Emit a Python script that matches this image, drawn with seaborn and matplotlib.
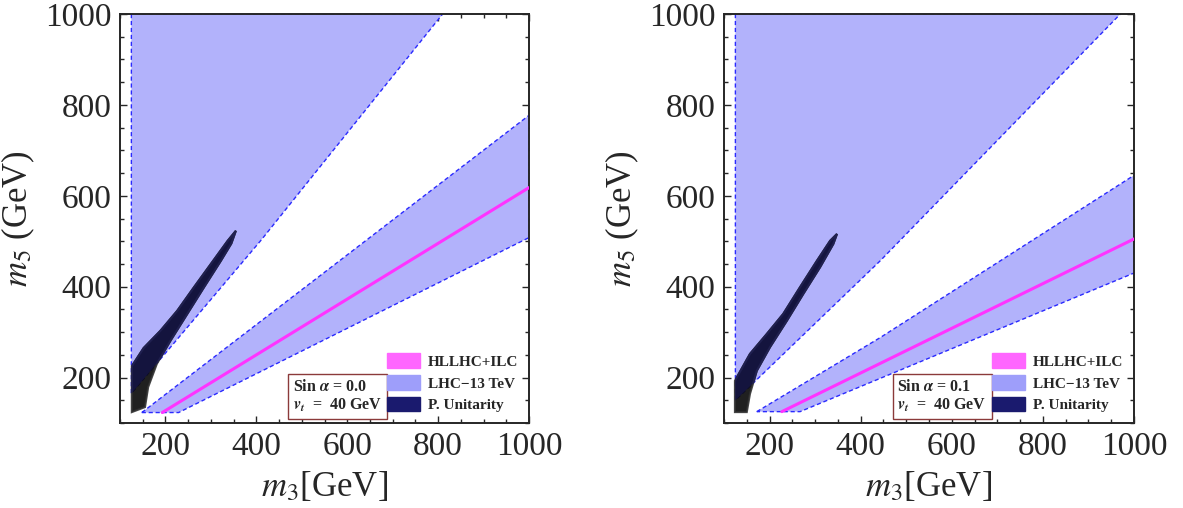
import matplotlib
matplotlib.use("Agg")
import matplotlib.pyplot as plt
from matplotlib.patches import Patch, Polygon
from matplotlib.ticker import MultipleLocator
import numpy as np
import pandas as pd
import seaborn as sns

# panel settings
SIN_ALPHA = ["0.0", "0.1"]
VT = "40"

# LHC-13 TeV upper excluded wedge (m3, m5), per panel
UPPER_M3 = [[125, 125, 411, 810], [125, 125, 443, 970]]
UPPER_M5 = [[1000, 165, 503, 1000], [1000, 150, 457, 1000]]

# LHC-13 TeV lower band
BAND_M3 = [[148, 1000, 1000, 229], [172, 443, 1000, 1000, 267]]
BAND_M5 = [[123, 777, 508, 123], [125, 288, 645, 430, 125]]

# HLLHC+ILC line
HL_M3 = [[193, 1000], [227, 1000]]
HL_M5 = [[123, 618], [125, 505]]

# perturbative unitarity region outline
PU_M3 = [[126, 152, 189, 226, 263, 300, 337, 355, 345, 322, 285, 248, 211, 181, 162, 155, 126],
         [124, 157, 194, 230, 267, 304, 333, 348, 340, 311, 274, 238, 201, 172, 157, 150, 124]]
PU_M5 = [[225, 265, 303, 347, 399, 450, 501, 523, 495, 457, 399, 340, 281, 230, 179, 135, 124],
         [193, 252, 296, 340, 399, 457, 501, 516, 494, 443, 384, 325, 267, 215, 164, 124, 124]]

LEGEND_LABELS = ["HLLHC+ILC", "LHC\u221213 TeV", "P. Unitarity"]
LEGEND_COLORS = ["#ff66ff", "#9e9efa", "#1a1a6e"]

FILL = "#b2b2fb"
EDGE = "#2a2aff"

sns.set_style("ticks")
plt.rcParams["font.family"] = ["Liberation Serif", "DejaVu Serif"]
plt.rcParams["mathtext.fontset"] = "stix"


def draw_panel(ax, i):
    upper = Polygon(np.column_stack([UPPER_M3[i], UPPER_M5[i]]), closed=True,
                    facecolor=FILL, edgecolor=EDGE, lw=1.0, ls=(0, (3, 2)), zorder=1)
    ax.add_patch(upper)
    band = Polygon(np.column_stack([BAND_M3[i], BAND_M5[i]]), closed=True,
                   facecolor=FILL, edgecolor=EDGE, lw=1.0, ls=(0, (3, 2)), zorder=1)
    ax.add_patch(band)

    hl = pd.DataFrame({"m3": HL_M3[i], "m5": HL_M5[i]})
    sns.lineplot(data=hl, x="m3", y="m5", color="#ff33ff", lw=2.2, ax=ax, zorder=3)

    pts = np.column_stack([PU_M3[i], PU_M5[i]])
    ax.add_patch(Polygon(pts, closed=True, facecolor="#080808", edgecolor="#303030",
                         lw=1.5, alpha=0.9, zorder=4))
    navy = Polygon(pts, closed=True, facecolor="#14143e", edgecolor="#202050",
                   lw=1.5, zorder=5)
    ax.add_patch(navy)
    navy.set_clip_path(upper)

    ax.set_xlim(100, 1000)
    ax.set_ylim(100, 1000)
    ax.xaxis.set_major_locator(MultipleLocator(200))
    ax.yaxis.set_major_locator(MultipleLocator(200))
    ax.xaxis.set_minor_locator(MultipleLocator(50))
    ax.yaxis.set_minor_locator(MultipleLocator(50))
    ax.tick_params(which="both", direction="in", top=True, right=True,
                   labelsize=24, pad=6, width=1.0)
    ax.tick_params(which="major", length=5)
    ax.tick_params(which="minor", length=3)
    for s in ax.spines.values():
        s.set_linewidth(1.4)
    ax.set_xlabel(r"$m_3$[GeV]", fontsize=25, labelpad=6)
    ax.set_ylabel(r"$m_5$ (GeV)", fontsize=25, labelpad=6)

    ax.text(0.423, 0.022,
            "Sin $\\boldsymbol{\\alpha}$ = " + SIN_ALPHA[i] + "\n$\\mathbfit{v_t}$  =  " + VT + " GeV",
            transform=ax.transAxes, fontsize=11.5, fontweight="bold", ha="left", va="bottom",
            linespacing=1.15,
            bbox=dict(boxstyle="square,pad=0.3", facecolor="white", edgecolor="#8b3a3a", lw=1.0),
            zorder=6)

    handles = [Patch(facecolor=c, edgecolor=c) for c in LEGEND_COLORS]
    leg = ax.legend(handles, LEGEND_LABELS, loc="lower right", bbox_to_anchor=(1.0, 0.0),
                    frameon=False, prop={"weight": "bold", "size": 11},
                    handlelength=2.2, handleheight=1.1, handletextpad=0.5,
                    labelspacing=0.4, borderaxespad=0.3)
    leg.set_zorder(7)


fig = plt.figure(figsize=(11.83, 5.08), dpi=100)
ax1 = fig.add_axes([120 / 1183, 85 / 508, 409 / 1183, 409 / 508])
ax2 = fig.add_axes([724 / 1183, 85 / 508, 410 / 1183, 409 / 508])
draw_panel(ax1, 0)
draw_panel(ax2, 1)
fig.savefig("out.png", dpi=100)
